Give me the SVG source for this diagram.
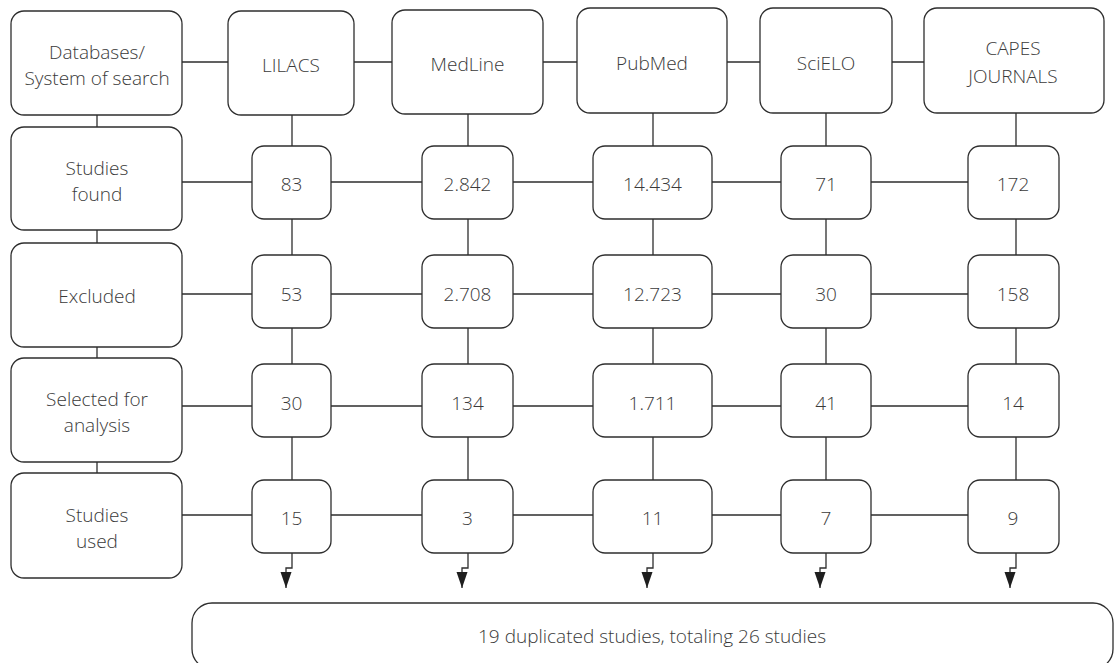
<svg xmlns="http://www.w3.org/2000/svg" width="1115" height="663" viewBox="0 0 1115 663">
<style>
.b{fill:#fff;stroke:#2e2e2e;stroke-width:1.3}
.c{fill:none;stroke:#2e2e2e;stroke-width:1.3}
text{font-family:"Open Sans","Liberation Sans",sans-serif;font-weight:300;font-size:19px;fill:#3a3a3a;text-anchor:middle}
</style>
<defs>
<marker id="ah" markerUnits="userSpaceOnUse" markerWidth="16" markerHeight="12" refX="16" refY="6" orient="auto">
<path d="M0,0.5 L16,6 L0,11.5 z" fill="#1e1e1e"/>
</marker>
</defs>
<rect width="1115" height="663" fill="#fff"/>
<g id="connectors">
<path class="c" d="M182,62H924 M182,182H968 M182,294H968 M182,406H968 M182,515H968"/>
<path class="c" d="M97,115V127 M97,230V243 M97,347V358 M97,462V473"/>
<path class="c" d="M292,115V146 M292,219V255 M292,328V364 M292,437V480"/>
<path class="c" d="M468,114V146 M468,219V255 M468,328V364 M468,437V480"/>
<path class="c" d="M653,113V146 M653,219V255 M653,328V364 M653,437V480"/>
<path class="c" d="M826,113V146 M826,219V255 M826,328V364 M826,437V480"/>
<path class="c" d="M1016,113V146 M1016,219V255 M1016,328V364 M1016,437V480"/>
<path class="c" marker-end="url(#ah)" d="M292,553V568H286V588"/>
<path class="c" marker-end="url(#ah)" d="M468,553V568H462V588"/>
<path class="c" marker-end="url(#ah)" d="M653,553V568H647V588"/>
<path class="c" marker-end="url(#ah)" d="M826,553V568H820V588"/>
<path class="c" marker-end="url(#ah)" d="M1016,553V568H1010V588"/>
</g>
<g id="n-databases"><rect class="b" x="11" y="11" width="171" height="104" rx="13"/><text x="97" y="59">Databases/</text><text x="97" y="85">System of search</text></g>
<g id="n-found"><rect class="b" x="11" y="127" width="171" height="103" rx="13"/><text x="97" y="175">Studies</text><text x="97" y="201">found</text></g>
<g id="n-excluded"><rect class="b" x="11" y="243" width="171" height="104" rx="13"/><text x="97" y="303">Excluded</text></g>
<g id="n-selected"><rect class="b" x="11" y="358" width="171" height="104" rx="13"/><text x="97" y="406">Selected for</text><text x="97" y="432">analysis</text></g>
<g id="n-used"><rect class="b" x="11" y="473" width="171" height="105" rx="13"/><text x="97" y="522">Studies</text><text x="97" y="548">used</text></g>

<g id="n-lilacs"><rect class="b" x="228" y="11" width="126" height="104" rx="13"/><text x="291" y="72">LILACS</text></g>
<g id="n-medline"><rect class="b" x="392" y="10" width="151" height="104" rx="13"/><text x="467.5" y="71">MedLine</text></g>
<g id="n-pubmed"><rect class="b" x="577" y="8" width="150" height="105" rx="13"/><text x="652" y="70">PubMed</text></g>
<g id="n-scielo"><rect class="b" x="760" y="8" width="132" height="105" rx="13"/><text x="826" y="70">SciELO</text></g>
<g id="n-capes"><rect class="b" x="924" y="8" width="180" height="105" rx="13"/><text x="1013" y="55">CAPES</text><text x="1013" y="83">JOURNALS</text></g>

<g id="n-l1"><rect class="b" x="252" y="146" width="79" height="73" rx="12"/><text x="291.5" y="191">83</text></g>
<g id="n-m1"><rect class="b" x="422" y="146" width="91" height="73" rx="12"/><text x="467.5" y="191">2.842</text></g>
<g id="n-p1"><rect class="b" x="593" y="146" width="119" height="73" rx="12"/><text x="652.5" y="191">14.434</text></g>
<g id="n-s1"><rect class="b" x="781" y="146" width="90" height="73" rx="12"/><text x="826" y="191">71</text></g>
<g id="n-c1"><rect class="b" x="968" y="146" width="91" height="73" rx="12"/><text x="1013" y="191">172</text></g>

<g id="n-l2"><rect class="b" x="252" y="255" width="79" height="73" rx="12"/><text x="291.5" y="301">53</text></g>
<g id="n-m2"><rect class="b" x="422" y="255" width="91" height="73" rx="12"/><text x="467.5" y="301">2.708</text></g>
<g id="n-p2"><rect class="b" x="593" y="255" width="119" height="73" rx="12"/><text x="652.5" y="301">12.723</text></g>
<g id="n-s2"><rect class="b" x="781" y="255" width="90" height="73" rx="12"/><text x="826" y="301">30</text></g>
<g id="n-c2"><rect class="b" x="968" y="255" width="91" height="73" rx="12"/><text x="1013" y="301">158</text></g>

<g id="n-l3"><rect class="b" x="252" y="364" width="79" height="73" rx="12"/><text x="291.5" y="410">30</text></g>
<g id="n-m3"><rect class="b" x="422" y="364" width="91" height="73" rx="12"/><text x="467.5" y="410">134</text></g>
<g id="n-p3"><rect class="b" x="593" y="364" width="119" height="73" rx="12"/><text x="652.5" y="410">1.711</text></g>
<g id="n-s3"><rect class="b" x="781" y="364" width="90" height="73" rx="12"/><text x="826" y="410">41</text></g>
<g id="n-c3"><rect class="b" x="968" y="364" width="91" height="73" rx="12"/><text x="1013" y="410">14</text></g>

<g id="n-l4"><rect class="b" x="252" y="480" width="79" height="73" rx="12"/><text x="291.5" y="525">15</text></g>
<g id="n-m4"><rect class="b" x="422" y="480" width="91" height="73" rx="12"/><text x="467.5" y="525">3</text></g>
<g id="n-p4"><rect class="b" x="593" y="480" width="119" height="73" rx="12"/><text x="652.5" y="525">11</text></g>
<g id="n-s4"><rect class="b" x="781" y="480" width="90" height="73" rx="12"/><text x="826" y="525">7</text></g>
<g id="n-c4"><rect class="b" x="968" y="480" width="91" height="73" rx="12"/><text x="1013" y="525">9</text></g>

<g id="n-total"><rect class="b" x="192" y="603" width="921" height="66" rx="20"/><text x="652" y="643">19 duplicated studies, totaling 26 studies</text></g>
</svg>
